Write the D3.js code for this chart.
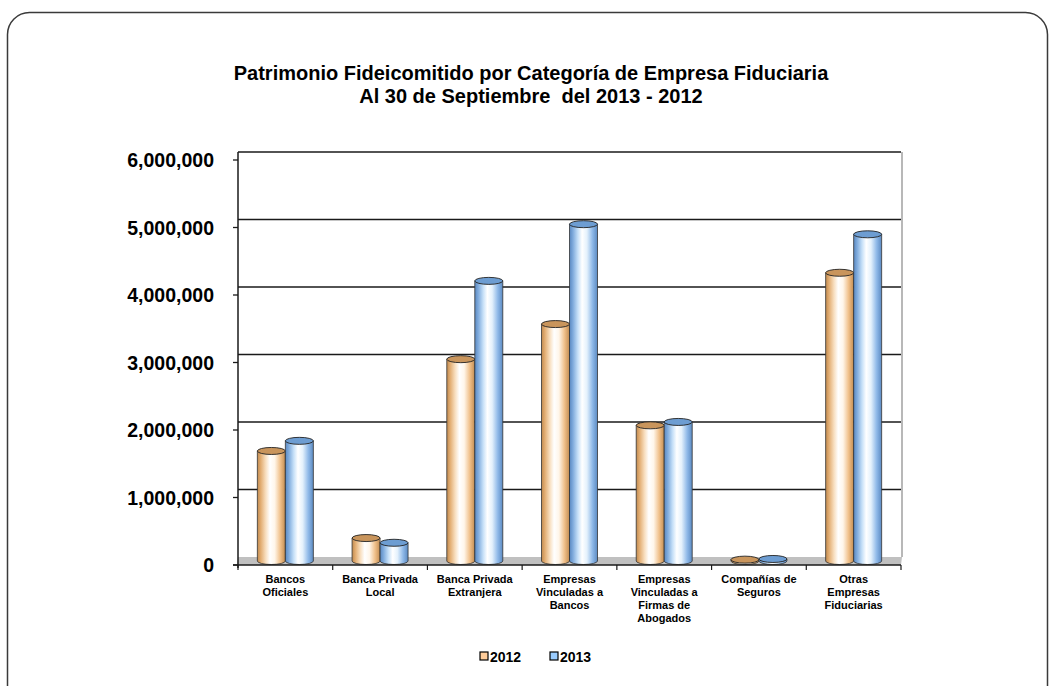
<!DOCTYPE html>
<html><head><meta charset="utf-8">
<script src="https://cdn.jsdelivr.net/npm/d3@7"></script>
<style>body{margin:0;background:#fff}svg{display:block}text{font-family:"Liberation Sans",Arial,sans-serif;font-weight:bold;fill:#000}</style>
</head><body>
<script>
const titleLines = ["Patrimonio Fideicomitido por Categoría de Empresa Fiduciaria", "Al 30 de Septiembre  del 2013 - 2012"];
const categories = [
  ["Bancos","Oficiales"],
  ["Banca Privada","Local"],
  ["Banca Privada","Extranjera"],
  ["Empresas","Vinculadas a","Bancos"],
  ["Empresas","Vinculadas a","Firmas de","Abogados"],
  ["Compañías de","Seguros"],
  ["Otras","Empresas","Fiduciarias"]
];
const seriesNames = ["2012","2013"];
const values2012 = [1630000, 340000, 2990000, 3510000, 2010000, 20000, 4270000];
const values2013 = [1780000, 270000, 4150000, 4990000, 2060000, 30000, 4840000];
const yTicks = [0,1000000,2000000,3000000,4000000,5000000,6000000];

const W=1054,H=686;
const svg=d3.select("body").append("svg").attr("width",W).attr("height",H);
const defs=svg.append("defs");

// outer rounded border
svg.append("rect").attr("x",7.5).attr("y",12.5).attr("width",1040).attr("height",700).attr("rx",22)
  .attr("fill","#fff").attr("stroke","#3a3a3a").attr("stroke-width",1.5);

// title
svg.append("text").attr("x",531).attr("y",0).attr("text-anchor","middle").style("font-size","20px")
  .style("white-space","pre").attr("xml:space","preserve")
  .selectAll("tspan").data(titleLines).join("tspan").attr("x",531).attr("y",(d,i)=>80+i*23).text(d=>d);

const left=238,right=901,depth=8;
const y=d3.scaleLinear().domain([0,6000000]).range([565,160]);
const x=d3.scaleBand().domain(d3.range(categories.length)).range([left,right]);
const xs=d3.scaleBand().domain(seriesNames).range([0,56]);

// floor
svg.append("polygon").attr("points",`${left},${y(0)-depth} ${right+1},${y(0)-depth} ${right},${y(0)} ${left-1},${y(0)}`)
  .attr("fill","#c0c0c0").attr("stroke","none");
// back wall gridlines
svg.append("g").selectAll("line").data(yTicks.slice(1)).join("line")
  .attr("x1",left).attr("x2",right).attr("y1",d=>y(d)-depth).attr("y2",d=>y(d)-depth)
  .attr("stroke","#1a1a1a").attr("stroke-width",1.6);
// right wall edge
svg.append("line").attr("x1",right+1).attr("x2",right+1).attr("y1",y(6000000)-depth).attr("y2",y(0)-depth)
  .attr("stroke","#a0a0a0").attr("stroke-width",1.5);

// bars (cylinders)
const pal={
  "2012":{stops:[[0,"#c08a4f"],[0.12,"#e2ad72"],[0.3,"#f8dfc0"],[0.45,"#ffffff"],[0.62,"#fff6ea"],[0.82,"#f0c08a"],[1,"#c38d52"]],top:"#c9955c"},
  "2013":{stops:[[0,"#5a88c0"],[0.12,"#7eaadc"],[0.3,"#c6e0f8"],[0.45,"#ffffff"],[0.62,"#e4f1fc"],[0.82,"#8fb9e8"],[1,"#5b8ac2"]],top:"#6d9dd2"}
};
seriesNames.forEach(s=>{
  const g=defs.append("linearGradient").attr("id","g"+s).attr("x1","0").attr("x2","1").attr("y1","0").attr("y2","0");
  pal[s].stops.forEach(st=>g.append("stop").attr("offset",st[0]).attr("stop-color",st[1]));
});
const data=[];
categories.forEach((c,i)=>{data.push({i,s:"2012",v:values2012[i]});data.push({i,s:"2013",v:values2013[i]});});
const bw=xs.bandwidth(), ry=3.5, mid=depth/2;
const bars=svg.append("g").selectAll("g").data(data).join("g")
  .attr("transform",d=>`translate(${x(d.i)+x.bandwidth()/2-28+xs(d.s)},0)`);
bars.append("path").attr("d",d=>{
  const yt=y(d.v)-mid, yb=y(0)-mid;
  return `M0,${yt} L0,${yb} A${bw/2},${ry} 0 0 0 ${bw},${yb} L${bw},${yt} Z`;
}).attr("fill",d=>`url(#g${d.s})`).attr("stroke","#333").attr("stroke-width",0.8);
bars.append("ellipse").attr("cx",bw/2).attr("cy",d=>y(d.v)-mid).attr("rx",bw/2).attr("ry",ry)
  .attr("fill",d=>pal[d.s].top).attr("stroke","#222").attr("stroke-width",0.9);

// left axis
svg.append("line").attr("x1",left).attr("x2",left).attr("y1",y(6000000)-depth).attr("y2",y(0)+3)
  .attr("stroke","#1a1a1a").attr("stroke-width",1.5);
const yAxis=svg.append("g");
yAxis.selectAll("line").data(yTicks).join("line").attr("x1",left-5).attr("x2",left).attr("y1",d=>y(d)).attr("y2",d=>y(d))
  .attr("stroke","#1a1a1a").attr("stroke-width",1.3);
yAxis.selectAll("text").data(yTicks).join("text").attr("x",214).attr("y",d=>y(d)).attr("dy","0.36em")
  .attr("text-anchor","end").style("font-size","19.5px").text(d=>d3.format(",")(d));

// bottom axis
svg.append("line").attr("x1",left-5).attr("x2",right).attr("y1",y(0)).attr("y2",y(0)).attr("stroke","#1a1a1a").attr("stroke-width",1.5);
svg.append("g").selectAll("line").data(d3.range(categories.length+1)).join("line")
  .attr("x1",d=>left+d*x.step()).attr("x2",d=>left+d*x.step()).attr("y1",y(0)).attr("y2",y(0)+5)
  .attr("stroke","#1a1a1a").attr("stroke-width",1.2);
svg.append("g").selectAll("text").data(categories).join("text")
  .attr("text-anchor","middle").style("font-size","11px")
  .each(function(d,i){
    d3.select(this).selectAll("tspan").data(d).join("tspan")
      .attr("x",x(i)+x.bandwidth()/2).attr("y",(t,j)=>583+j*13).text(t=>t);
  });

// legend
const leg=svg.append("g");
const legItems=[{s:"2012",x:480,c:"#ffcc99"},{s:"2013",x:550,c:"#99ccff"}];
leg.selectAll("rect").data(legItems).join("rect").attr("x",d=>d.x).attr("y",652).attr("width",8).attr("height",8)
  .attr("fill",d=>d.c).attr("stroke","#000").attr("stroke-width",1.2);
leg.selectAll("text").data(legItems).join("text").attr("x",d=>d.x+10).attr("y",662).style("font-size","14px").text(d=>d.s);
</script>
</body></html>
